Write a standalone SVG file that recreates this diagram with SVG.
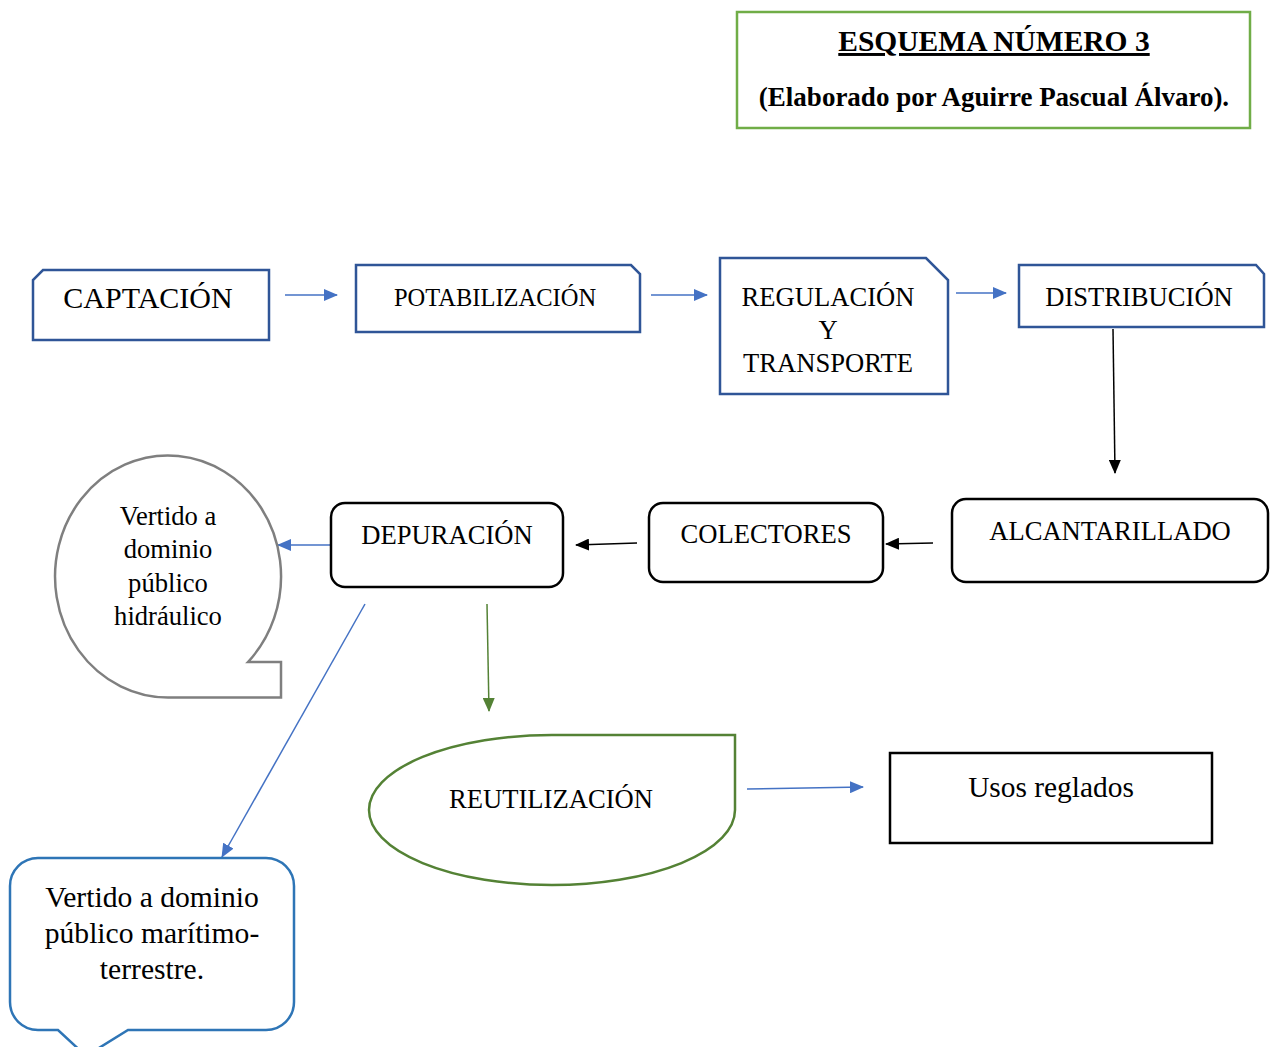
<svg xmlns="http://www.w3.org/2000/svg" width="1274" height="1047" viewBox="0 0 1274 1047">
  <style>
    text { font-family: "Liberation Serif", "Times New Roman", serif; fill: #000; text-anchor: middle; }
    .t24 { font-size: 26.6px; }
    .t22 { font-size: 24.5px; }
    .t26 { font-size: 29.6px; }
    .blueBox { fill: #fff; stroke: #2f5597; stroke-width: 2.5; }
    .blackBox { fill: #fff; stroke: #000; stroke-width: 2.5; }
    .blue { stroke: #4472c4; stroke-width: 1.5; fill: none; }
    .black { stroke: #000; stroke-width: 1.5; fill: none; }
    .green { stroke: #548235; stroke-width: 1.5; fill: none; }
  </style>
  <defs>
    <marker id="arrBlue" markerUnits="userSpaceOnUse" markerWidth="14" markerHeight="12" refX="13" refY="6" orient="auto">
      <path d="M0,0 L14,6 L0,12 Z" fill="#4472c4"/>
    </marker>
    <marker id="arrBlack" markerUnits="userSpaceOnUse" markerWidth="14" markerHeight="12" refX="13" refY="6" orient="auto">
      <path d="M0,0 L14,6 L0,12 Z" fill="#000"/>
    </marker>
    <marker id="arrGreen" markerUnits="userSpaceOnUse" markerWidth="14" markerHeight="12" refX="13" refY="6" orient="auto">
      <path d="M0,0 L14,6 L0,12 Z" fill="#548235"/>
    </marker>
  </defs>

  <rect width="1274" height="1047" fill="#fff"/>

  <!-- Title block -->
  <g id="title">
    <rect x="737" y="12" width="513" height="116" fill="#fff" stroke="#70ad47" stroke-width="2.5"/>
    <text x="994" y="51" font-size="29.5" font-weight="bold" text-decoration="underline">ESQUEMA NÚMERO 3</text>
    <text x="994" y="106" font-size="27" font-weight="bold">(Elaborado por Aguirre Pascual Álvaro).</text>
  </g>

  <!-- Connectors -->
  <g id="connectors">
    <line class="blue" x1="285" y1="295" x2="337" y2="295" marker-end="url(#arrBlue)"/>
    <line class="blue" x1="651" y1="295" x2="707" y2="295" marker-end="url(#arrBlue)"/>
    <line class="blue" x1="956" y1="293" x2="1006" y2="293" marker-end="url(#arrBlue)"/>
    <line class="black" x1="1113" y1="329" x2="1115" y2="473" marker-end="url(#arrBlack)"/>
    <line class="black" x1="933" y1="543" x2="886" y2="544" marker-end="url(#arrBlack)"/>
    <line class="black" x1="637" y1="543" x2="576" y2="545" marker-end="url(#arrBlack)"/>
    <line class="blue" x1="330" y1="545" x2="278" y2="545" marker-end="url(#arrBlue)"/>
    <line class="blue" x1="365" y1="604" x2="222" y2="857" marker-end="url(#arrBlue)"/>
    <line class="green" x1="487" y1="604" x2="489" y2="711" marker-end="url(#arrGreen)"/>
    <line class="blue" x1="747" y1="789" x2="863" y2="787" stroke-width="2.5" marker-end="url(#arrBlue)"/>
  </g>

  <!-- Supply chain -->
  <g id="captacion">
    <path class="blueBox" d="M43,270 L269,270 L269,340 L33,340 L33,280 Z"/>
    <text x="148" y="308" font-size="30">CAPTACIÓN</text>
  </g>
  <g id="potabilizacion">
    <path class="blueBox" d="M356,265 L631,265 L640,274 L640,332 L356,332 Z"/>
    <text class="t22" x="495" y="306">POTABILIZACIÓN</text>
  </g>
  <g id="regulacion">
    <path class="blueBox" d="M720,258 L926,258 L948,280 L948,394 L720,394 Z"/>
    <text class="t24" x="828" y="306">REGULACIÓN</text>
    <text class="t24" x="828" y="339">Y</text>
    <text class="t24" x="828" y="372">TRANSPORTE</text>
  </g>
  <g id="distribucion">
    <path class="blueBox" d="M1019,265 L1256,265 L1264,274 L1264,327 L1019,327 Z"/>
    <text class="t24" x="1139" y="306">DISTRIBUCIÓN</text>
  </g>

  <!-- Wastewater chain -->
  <g id="alcantarillado">
    <rect class="blackBox" x="952" y="499" width="316" height="83" rx="14"/>
    <text class="t24" x="1110" y="540">ALCANTARILLADO</text>
  </g>
  <g id="colectores">
    <rect class="blackBox" x="649" y="503" width="234" height="79" rx="14"/>
    <text class="t24" x="766" y="543">COLECTORES</text>
  </g>
  <g id="depuracion">
    <rect class="blackBox" x="331" y="503" width="232" height="84" rx="14"/>
    <text class="t24" x="447" y="544">DEPURACIÓN</text>
  </g>

  <!-- Discharge to river basin -->
  <g id="vertido-hidraulico">
    <path d="M168,697.5 A113,121 0 1 1 248,662 L281,662 L281,697.5 Z" fill="#fff" stroke="#7f7f7f" stroke-width="2.5"/>
    <text class="t24" x="168" y="525">Vertido a</text>
    <text class="t24" x="168" y="558">dominio</text>
    <text class="t24" x="168" y="592">público</text>
    <text class="t24" x="168" y="625">hidráulico</text>
  </g>

  <!-- Reuse -->
  <g id="reutilizacion">
    <path d="M369,810 A183,75 0 0 1 552,735 L735,735 L735,810 A183,75 0 0 1 552,885 A183,75 0 0 1 369,810 Z" fill="#fff" stroke="#548235" stroke-width="2.5"/>
    <text class="t24" x="551" y="808">REUTILIZACIÓN</text>
  </g>
  <g id="usos-reglados">
    <rect x="890" y="753" width="322" height="90" fill="#fff" stroke="#000" stroke-width="2.5"/>
    <text x="1051" y="797" font-size="29.4">Usos reglados</text>
  </g>

  <!-- Discharge to sea -->
  <g id="vertido-maritimo">
    <path d="M38,858 L266,858 A28,28 0 0 1 294,886 L294,1002 A28,28 0 0 1 266,1030 L128,1030 L86,1056 L58,1030 L38,1030 A28,28 0 0 1 10,1002 L10,886 A28,28 0 0 1 38,858 Z" fill="#fff" stroke="#2e75b6" stroke-width="2.5"/>
    <text class="t26" x="152" y="907">Vertido a dominio</text>
    <text class="t26" x="152" y="943">público marítimo-</text>
    <text class="t26" x="152" y="979">terrestre.</text>
  </g>
</svg>
